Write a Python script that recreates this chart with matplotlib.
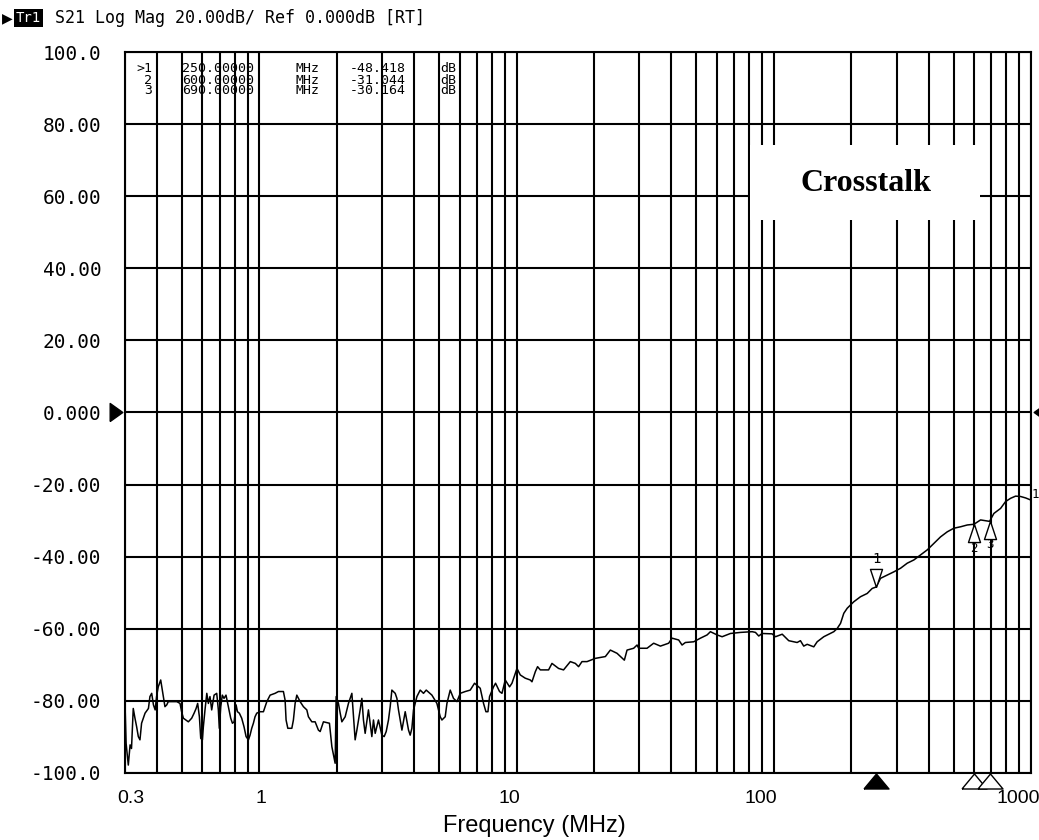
import matplotlib.pyplot as plt
from matplotlib.ticker import FixedLocator, NullFormatter
from matplotlib.patches import Rectangle
from matplotlib.transforms import ScaledTranslation

# S21 trace (MHz, dB)
freq_mhz = [
    0.300, 0.303, 0.309, 0.314, 0.318, 0.323, 0.328, 0.333, 0.338, 0.343,
    0.348, 0.359, 0.370, 0.375, 0.381, 0.387, 0.393, 0.398, 0.404, 0.413,
    0.420, 0.429, 0.436, 0.442, 0.477, 0.491, 0.498, 0.506, 0.529, 0.545,
    0.557, 0.567, 0.575, 0.584, 0.591, 0.600, 0.605, 0.614, 0.624, 0.633,
    0.642, 0.652, 0.666, 0.682, 0.692, 0.698, 0.707, 0.717, 0.728, 0.741,
    0.750, 0.764, 0.773, 0.785, 0.797, 0.811, 0.821, 0.835, 0.853, 0.871,
    0.887, 0.906, 0.919, 0.933, 0.947, 0.961, 0.976, 1.006, 1.036, 1.068,
    1.100, 1.150, 1.185, 1.239, 1.258, 1.269, 1.289, 1.336, 1.355, 1.376,
    1.397, 1.439, 1.482, 1.528, 1.550, 1.598, 1.646, 1.695, 1.722, 1.773,
    1.871, 1.912, 1.969, 1.987, 2.028, 2.060, 2.091, 2.154, 2.218, 2.287,
    2.320, 2.355, 2.392, 2.463, 2.501, 2.537, 2.576, 2.653, 2.735, 2.775,
    2.818, 2.902, 2.992, 3.054, 3.110, 3.174, 3.223, 3.272, 3.371, 3.423,
    3.472, 3.580, 3.687, 3.798, 3.855, 3.914, 3.972, 4.094, 4.217, 4.343,
    4.450, 4.683, 4.897, 5.045, 5.122, 5.275, 5.357, 5.517, 5.682, 5.859,
    6.035, 6.312, 6.600, 6.859, 7.218, 7.435, 7.596, 7.734, 7.845, 8.132,
    8.279, 8.580, 8.768, 9.030, 9.385, 9.590, 9.876, 10.03, 10.33, 10.80,
    11.30, 11.47, 11.82, 12.06, 12.36, 13.31, 13.72, 14.56, 15.22, 16.17,
    16.91, 17.41, 17.95, 18.78, 20.23, 22.13, 23.14, 24.57, 26.23, 26.87,
    28.51, 29.39, 29.82, 32.14, 34.10, 36.22, 39.00, 40.21, 42.66, 43.97,
    45.30, 48.80, 51.82, 55.02, 56.68, 60.18, 62.94, 67.80, 74.15, 82.36,
    84.84, 87.37, 90.07, 98.49, 101.5, 107.8, 114.3, 123.2, 126.9, 130.7,
    134.8, 143.0, 147.4, 156.4, 163.6, 171.1, 176.4, 181.7, 187.1, 192.9,
    204.6, 217.3, 230.7, 241.3, 250.0, 259.9, 276.0, 292.9, 311.0, 330.2,
    350.4, 372.1, 395.1, 419.1, 444.9, 472.4, 501.2, 532.3, 565.2, 600.0,
    636.7, 690.0, 717.3, 761.7, 796.5, 833.0, 871.1, 911.0, 953.0, 1000,
]
s21_db = [
    -80.7, -91.8, -97.8, -92.2, -93.2, -82.1, -84.8, -87.2, -89.9, -90.8,
    -86.2, -83.4, -82.1, -78.8, -77.9, -81.1, -82.5, -78.8, -76.1, -74.2,
    -77.4, -81.6, -81.1, -80.2, -80.2, -80.7, -83.0, -84.8, -85.8, -84.8,
    -83.4, -82.1, -80.7, -84.4, -90.4, -90.8, -87.2, -82.5, -77.9, -80.7,
    -78.8, -82.5, -78.4, -77.9, -82.5, -87.6, -81.6, -78.4, -79.3, -78.4,
    -80.2, -83.0, -84.8, -86.2, -85.8, -81.1, -83.0, -83.4, -84.8, -87.2,
    -89.9, -90.8, -89.5, -87.6, -86.2, -84.4, -83.4, -83.0, -83.0, -80.2,
    -78.4, -77.9, -77.4, -77.4, -79.8, -85.3, -87.6, -87.6, -85.3, -80.7,
    -78.4, -80.2, -81.6, -82.5, -84.4, -85.8, -85.8, -88.1, -88.5, -85.8,
    -86.2, -92.7, -97.3, -78.8, -80.7, -83.4, -85.8, -84.4, -80.7, -77.9,
    -84.4, -90.8, -88.1, -82.5, -79.3, -85.3, -89.0, -82.5, -89.9, -85.3,
    -89.0, -85.3, -89.5, -89.9, -88.5, -85.3, -81.6, -77.0, -77.9, -79.3,
    -82.5, -88.1, -83.0, -88.1, -89.5, -87.6, -82.5, -78.8, -77.0, -77.9,
    -77.0, -78.4, -80.7, -84.4, -85.3, -84.4, -80.7, -77.0, -79.3, -80.2,
    -77.9, -77.4, -77.0, -75.1, -76.5, -80.7, -83.0, -83.0, -78.8, -76.1,
    -75.1, -77.4, -77.9, -74.2, -76.1, -75.1, -72.4, -71.0, -72.8, -73.7,
    -74.2, -74.7, -71.9, -70.5, -71.4, -71.4, -69.6, -71.0, -71.4, -69.1,
    -69.6, -70.5, -69.1, -69.1, -68.2, -67.7, -65.9, -66.8, -68.7, -65.9,
    -65.4, -64.5, -65.4, -65.4, -64.0, -64.8, -64.0, -62.6, -63.1, -64.5,
    -63.8, -63.6, -62.6, -61.7, -60.8, -61.7, -62.2, -61.3, -61.0, -60.8,
    -61.0, -62.0, -61.3, -61.4, -62.2, -61.5, -63.3, -63.8, -63.3, -64.8,
    -64.3, -65.0, -63.6, -62.2, -61.5, -60.8, -59.9, -58.5, -55.7, -54.3,
    -52.5, -51.1, -50.2, -48.8, -48.4, -46.0, -45.1, -44.2, -43.2, -41.8,
    -40.9, -39.5, -38.1, -36.3, -34.5, -33.1, -32.1, -31.7, -31.2, -31.0,
    -29.8, -30.2, -28.0, -26.6, -24.7, -23.8, -23.2, -23.3, -23.7, -24.3,
]
assert len(freq_mhz) == len(s21_db)

# markers from the readout table
marker_ids = ["1", "2", "3"]
marker_freq = [250.0, 600.0, 690.0]
marker_db = [-48.418, -31.044, -30.164]

x_ticks = [0.3, 1, 10, 100, 1000]
x_tick_labels = ["0.3", "1", "10", "100", "1000"]
x_label_shift_px = [6, 1, -7, -13, -13]
y_ticks = [100, 80, 60, 40, 20, 0, -20, -40, -60, -80, -100]
y_tick_labels = ["100.0", "80.00", "60.00", "40.00", "20.00", "0.000",
                 "-20.00", "-40.00", "-60.00", "-80.00", "-100.0"]
grid_freqs = [0.4, 0.5, 0.6, 0.7, 0.8, 0.9,
              2, 3, 4, 5, 6, 7, 8, 9,
              20, 30, 40, 50, 60, 70, 80, 90,
              200, 300, 400, 500, 600, 700, 800, 900]

W, H = 1039, 840
mono = "DejaVu Sans Mono"


def px(x, y):
    return x / W, 1 - y / H


fig = plt.figure(figsize=(W / 100, H / 100), dpi=100)
ax = fig.add_axes([125 / W, 1 - 773 / H, 906 / W, 721 / H])

ax.plot(freq_mhz, s21_db, color="black", lw=1.1, zorder=3)

ax.set_xscale("log")
ax.set_xlim(0.3, 1000)
ax.set_ylim(-100, 100)
ax.xaxis.set_major_locator(FixedLocator(x_ticks))
ax.xaxis.set_minor_locator(FixedLocator(grid_freqs))
ax.xaxis.set_minor_formatter(NullFormatter())
ax.set_xticklabels(x_tick_labels, fontsize=14, fontfamily="Liberation Sans")
ax.set_yticks(y_ticks)
ax.set_yticklabels(y_tick_labels, fontsize=14, fontfamily=mono)
ax.tick_params(which="both", length=0)
ax.tick_params(axis="x", pad=12)
ax.tick_params(axis="y", pad=17)
for lab, dx in zip(ax.get_xticklabels(), x_label_shift_px):
    lab.set_transform(lab.get_transform() + ScaledTranslation(dx / 100, 0, fig.dpi_scale_trans))

ax.grid(True, which="both", color="black", lw=1.5)
ax.set_axisbelow(True)
for sp in ax.spines.values():
    sp.set_linewidth(1.5)

# white label box over the grid
ax.add_patch(Rectangle((0.690, 0.767), 0.254, 0.104, transform=ax.transAxes,
                       facecolor="white", edgecolor="none", zorder=2))
ax.text(0.818, 0.818, "Crosstalk", transform=ax.transAxes, ha="center", va="center",
        fontsize=23, fontweight="bold", fontfamily="Liberation Serif", zorder=4)

# reference level arrows
ytr = ax.get_yaxis_transform()
xtr = ax.get_xaxis_transform()
right_tri = [(-0.35, -0.5), (0.35, 0), (-0.35, 0.5), (-0.35, -0.5)]
left_tri = [(0.35, -0.5), (-0.35, 0), (0.35, 0.5), (0.35, -0.5)]
ax.plot([-0.010], [0], marker=right_tri, ms=13, color="black", transform=ytr, clip_on=False)
ax.plot([1.0099], [0], marker=left_tri, ms=13, color="black", transform=ytr, clip_on=False)

# marker position flags below the axis
up_tri = [(-0.5, -0.3), (0.5, -0.3), (0, 0.3), (-0.5, -0.3)]
ax.plot([marker_freq[0]], [-0.011], marker=up_tri, ms=18, color="black",
        transform=xtr, clip_on=False)
ax.plot(marker_freq[1:], [-0.011, -0.011], marker=up_tri, ms=18, ls="none",
        mfc="white", mec="black", mew=1, transform=xtr, clip_on=False)

# markers on the trace
down_flag = [(0, 0), (-0.3, 0.9), (0.3, 0.9), (0, 0)]
up_flag = [(0, 0), (-0.3, -0.9), (0.3, -0.9), (0, 0)]
ax.plot([marker_freq[0]], [marker_db[0]], marker=down_flag, ms=26, mfc="white",
        mec="black", mew=1, zorder=4)
ax.annotate(marker_ids[0], (marker_freq[0], marker_db[0]), xytext=(0, 20),
            textcoords="offset points", ha="center", va="center", fontsize=10,
            fontfamily=mono, zorder=4)
ax.plot(marker_freq[1:], marker_db[1:], marker=up_flag, ms=26, ls="none",
        mfc="white", mec="black", mew=1, zorder=4)
for mid, f, v in zip(marker_ids[1:], marker_freq[1:], marker_db[1:]):
    ax.annotate(mid, (f, v), xytext=(0, -17), textcoords="offset points",
                ha="center", va="center", fontsize=9, fontfamily=mono, zorder=4)

# trace end label
ax.text(1.001, s21_db[-1] + 1.5, "1", transform=ytr, ha="left", va="center",
        fontsize=9, fontfamily=mono, clip_on=False)

# marker readout table
table_freq = ["250.00000", "600.00000", "690.00000"]
table_vals = ["-48.418", "-31.044", "-30.164"]
rows_y = [68, 80, 91]
for i, yy in enumerate(rows_y):
    tag = ">" + marker_ids[i] if i == 0 else marker_ids[i]
    fig.text(*px(152, yy), tag, ha="right", va="center", fontsize=9.5, fontfamily=mono)
    fig.text(*px(182, yy), table_freq[i], ha="left", va="center", fontsize=9.5, fontfamily=mono)
    fig.text(*px(295, yy), "MHz", ha="left", va="center", fontsize=9.5, fontfamily=mono)
    fig.text(*px(350, yy), table_vals[i], ha="left", va="center", fontsize=9.5, fontfamily=mono)
    fig.text(*px(440, yy), "dB", ha="left", va="center", fontsize=9.5, fontfamily=mono)

# header line
fig.text(*px(2, 18), "\u25b6", ha="left", va="center", fontsize=10, fontfamily="DejaVu Sans")
fig.text(*px(16, 18), "Tr1", ha="left", va="center", fontsize=10, fontfamily=mono,
         color="white", bbox=dict(facecolor="black", edgecolor="none", pad=1.5))
fig.text(*px(55, 18), "S21 Log Mag 20.00dB/ Ref 0.000dB [RT]", ha="left", va="center",
         fontsize=12, fontfamily=mono)

fig.text(*px(534, 826), "Frequency (MHz)", ha="center", va="center", fontsize=17,
         fontfamily="Liberation Sans")

fig.savefig("out.png", dpi=100, facecolor="white")
plt.close(fig)
